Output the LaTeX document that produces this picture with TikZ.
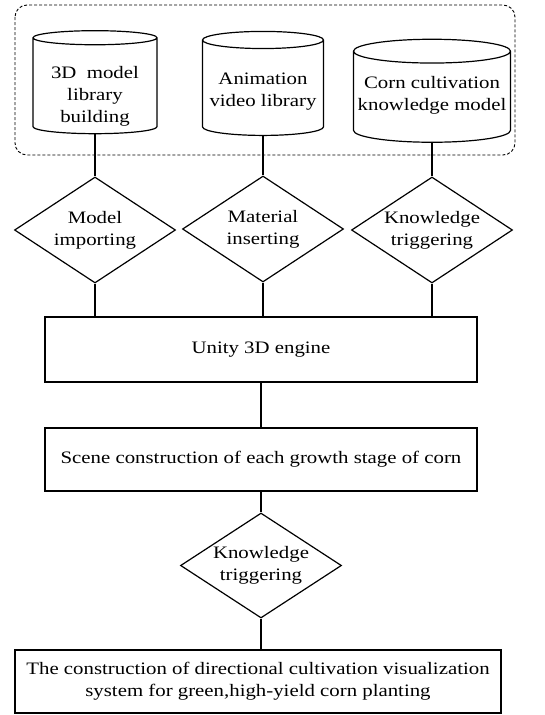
\documentclass[tikz,border=0pt]{standalone}
\usepackage{fontspec}
\setmainfont[FakeStretch=1.19]{Liberation Serif}
\usetikzlibrary{shapes.geometric}

\newcommand{\lowered}[2]{\raisebox{#1}[0pt][0pt]{\begin{tabular}{@{}c@{}}#2\end{tabular}}}

\begin{document}
\begin{tikzpicture}[x=1pt, y=-1pt, line width=1.2pt,
    txt/.style={font=\fontsize{17.5}{22}\selectfont, align=center, inner sep=0pt},
    db/.style={txt, draw, cylinder, shape border rotate=90, aspect=0.16},
    dec/.style={draw, diamond, minimum width=161pt, minimum height=106pt, inner sep=0pt},
    blk/.style={txt, draw, rectangle}]
    \useasboundingbox (0,0) rectangle (545,715);
    % libraries
    \draw[line width=0.9pt, dash pattern=on 3pt off 2pt, rounded corners=12pt] (15,5) rectangle (515,155);
    \node[db, minimum width=124pt, minimum height=103pt] (lib) at (95,86) {\lowered{-14pt}{3D~~model\\library\\building}};
    \node[db, minimum width=121pt, minimum height=104pt] (video) at (263,88) {\lowered{-7pt}{Animation\\video library}};
    \node[db, minimum width=157pt, minimum height=103pt] (know) at (432,97) {\lowered{-2pt}{Corn cultivation\\knowledge model}};
    % operations
    \node[dec, label={[txt]center:{Model\\importing}}] (import) at (95,230) {};
    \node[dec, label={[txt]center:{Material\\inserting}}] (insert) at (263,229) {};
    \node[dec, label={[txt]center:{Knowledge\\triggering}}] (trig) at (432,230) {};
    % engine and scene
    \node[blk, minimum width=432pt, minimum height=65pt] (unity) at (261,349.5) {Unity 3D engine};
    \node[blk, minimum width=432pt, minimum height=63pt] (scene) at (261,459.5) {Scene construction of each growth stage of corn};
    \node[dec, minimum height=105pt, label={[txt]center:{Knowledge\\triggering}}] (trig2) at (261,565.5) {};
    \node[blk, minimum width=486pt, minimum height=63pt] (sys) at (258,681.5) {The construction of directional cultivation visualization\\system for green,high-yield corn planting};
    % connectors
    \draw (lib.south) -- (import.north);
    \draw (video.south) -- (insert.north);
    \draw (know.south) -- (trig.north);
    \draw (import.south) -- (import.south |- unity.north);
    \draw (insert.south) -- (insert.south |- unity.north);
    \draw (trig.south) -- (trig.south |- unity.north);
    \draw (unity.south) -- (scene.north);
    \draw (scene.south) -- (trig2.north);
    \draw (trig2.south) -- (trig2.south |- sys.north);
\end{tikzpicture}
\end{document}
